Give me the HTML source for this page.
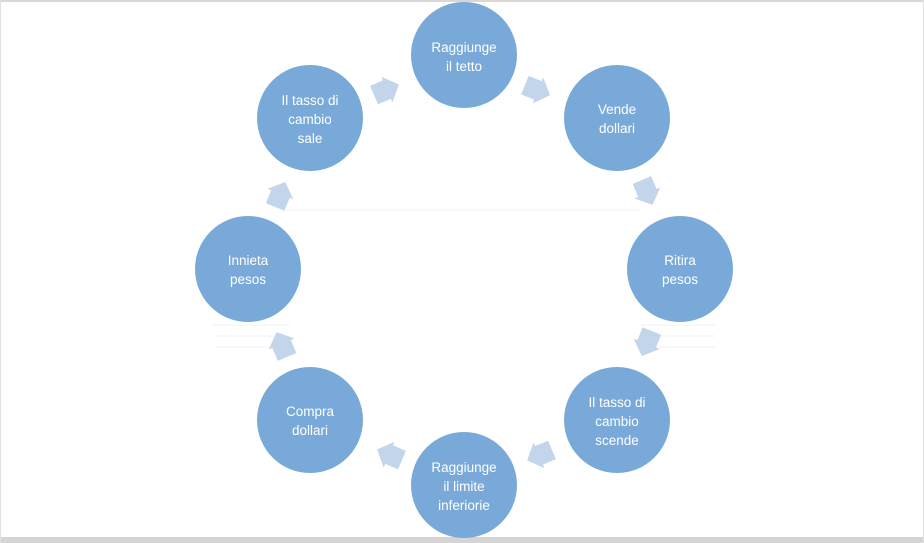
<!DOCTYPE html>
<html><head><meta charset="utf-8"><style>
html,body{margin:0;padding:0;background:#fff;}
svg{display:block;}
text{font-family:"Liberation Sans",sans-serif;font-size:13.5px;fill:#fff;text-anchor:middle;}
</style></head><body>
<svg width="924" height="543" viewBox="0 0 924 543">
<rect x="0" y="0" width="924" height="2" fill="#d8d8d8"/>
<rect x="0" y="537" width="924" height="6" fill="#d4d4d4"/>
<rect x="0" y="0" width="1" height="543" fill="#e0e0e0"/>
<rect x="923" y="0" width="1" height="543" fill="#e0e0e0"/>
<g stroke="#eef2f8" stroke-width="1">
<line x1="285" y1="210" x2="640" y2="210"/>
<line x1="212" y1="325" x2="290" y2="325"/>
<line x1="215" y1="336" x2="290" y2="336"/>
<line x1="215" y1="347" x2="290" y2="347"/>
<line x1="640" y1="325" x2="715" y2="325"/>
<line x1="640" y1="336" x2="715" y2="336"/>
<line x1="640" y1="347" x2="715" y2="347"/>
</g>
<g fill="#79a9d8">
<circle cx="464" cy="55" r="53"/>
<circle cx="617" cy="118" r="53"/>
<circle cx="680" cy="269" r="53"/>
<circle cx="617" cy="420" r="53"/>
<circle cx="464" cy="485" r="53"/>
<circle cx="310" cy="420" r="53"/>
<circle cx="248" cy="269" r="53"/>
<circle cx="310" cy="118" r="53"/>
</g>
<g fill="#c3d5eb">
<polygon transform="translate(386,90) rotate(-23)" points="-13,-10 1,-10 1,-14 14,0 1,14 1,10 -13,10"/>
<polygon transform="translate(537,90) rotate(22)" points="-13,-10 1,-10 1,-14 14,0 1,14 1,10 -13,10"/>
<polygon transform="translate(647,192) rotate(67)" points="-13,-10 1,-10 1,-14 14,0 1,14 1,10 -13,10"/>
<polygon transform="translate(647,343) rotate(112)" points="-13,-10 1,-10 1,-14 14,0 1,14 1,10 -13,10"/>
<polygon transform="translate(540,455) rotate(157)" points="-13,-10 1,-10 1,-14 14,0 1,14 1,10 -13,10"/>
<polygon transform="translate(390,455) rotate(203)" points="-13,-10 1,-10 1,-14 14,0 1,14 1,10 -13,10"/>
<polygon transform="translate(282,345) rotate(247)" points="-13,-10 1,-10 1,-14 14,0 1,14 1,10 -13,10"/>
<polygon transform="translate(280,195) rotate(292)" points="-13,-10 1,-10 1,-14 14,0 1,14 1,10 -13,10"/>
</g>
<text x="464" y="52">Raggiunge</text><text x="464" y="71">il tetto</text>
<text x="617" y="114">Vende</text><text x="617" y="133">dollari</text>
<text x="680" y="265">Ritira</text><text x="680" y="284">pesos</text>
<text x="617" y="407">Il tasso di</text><text x="617" y="426">cambio</text><text x="617" y="445">scende</text>
<text x="464" y="472">Raggiunge</text><text x="464" y="491">il limite</text><text x="464" y="510">inferiorie</text>
<text x="310" y="416">Compra</text><text x="310" y="435">dollari</text>
<text x="248" y="265">Innieta</text><text x="248" y="284">pesos</text>
<text x="310" y="105">Il tasso di</text><text x="310" y="124">cambio</text><text x="310" y="143">sale</text>
</svg>
</body></html>
